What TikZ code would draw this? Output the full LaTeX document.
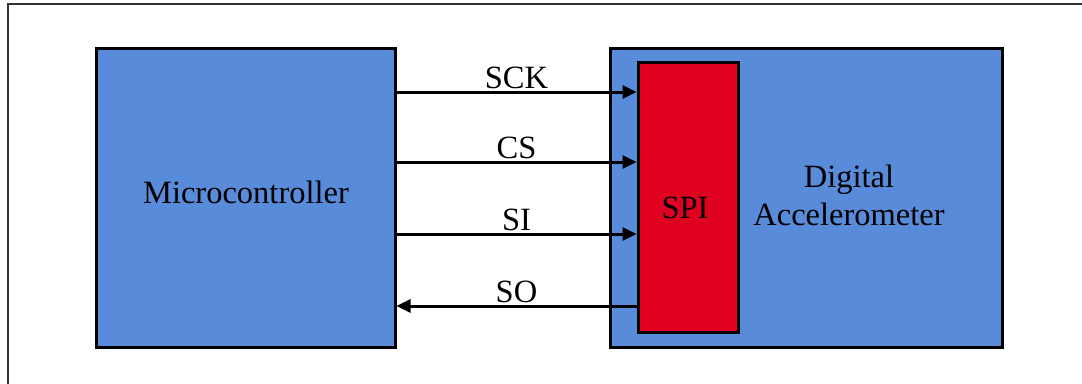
\documentclass[tikz,border=0pt]{standalone}
\usepackage{fontspec}
\setmainfont{Liberation Serif}
\usepackage{xcolor}
\usepackage{tikz}
\usetikzlibrary{arrows.meta, positioning, calc}
\definecolor{boxblue}{RGB}{89,139,219}
\definecolor{spired}{RGB}{224,0,32}
\tikzstyle{block} = [rectangle, draw=black, line width=3pt, fill=boxblue, inner sep=0pt]
\tikzstyle{spiblock} = [rectangle, draw=black, line width=3pt, fill=spired, inner sep=0pt, minimum width=100pt, minimum height=270pt]
\tikzstyle{txt} = [font=\fontsize{32.5}{38}\selectfont, text=black, align=center]
\tikzstyle{arrow} = [line width=3pt, -{Triangle[length=14pt, width=13pt]}]

\begin{document}
\begin{tikzpicture}[x=1pt, y=-1pt, node distance=212pt]
\useasboundingbox (0,0) rectangle (1082,383);
\clip (0,0) rectangle (1082,383);

% outer frame
\draw [black!80, line width=1.3pt] (8,4) rectangle (1100,400);

\node (mcu) [block, minimum width=299pt, minimum height=299pt] at (245.5,197.5) {};
\node (acc) [block, minimum width=392pt, minimum height=299pt, right=of mcu] {};
\node (spi) [spiblock, right=28pt of acc.west] {};

\node (mcutext) [txt] at (246,192) {Microcontroller};
\node (spitext) [txt] at (685,207.5) {SPI};
\node (acctext) [txt] at (849,195) {Digital\\Accelerometer};

\coordinate (sck) at (0,92);
\coordinate (cs) at (0,162);
\coordinate (si) at (0,234);
\coordinate (so) at (0,306);

\draw [arrow] (mcu.east |- sck) -- node[txt, above, inner sep=2pt] {SCK} (spi.west |- sck);
\draw [arrow] (mcu.east |- cs) -- node[txt, above, inner sep=2pt] {CS} (spi.west |- cs);
\draw [arrow] (mcu.east |- si) -- node[txt, above, inner sep=2pt] {SI} (spi.west |- si);
\draw [arrow] (spi.west |- so) -- node[txt, above, inner sep=2pt] {SO} (mcu.east |- so);

\end{tikzpicture}
\end{document}
